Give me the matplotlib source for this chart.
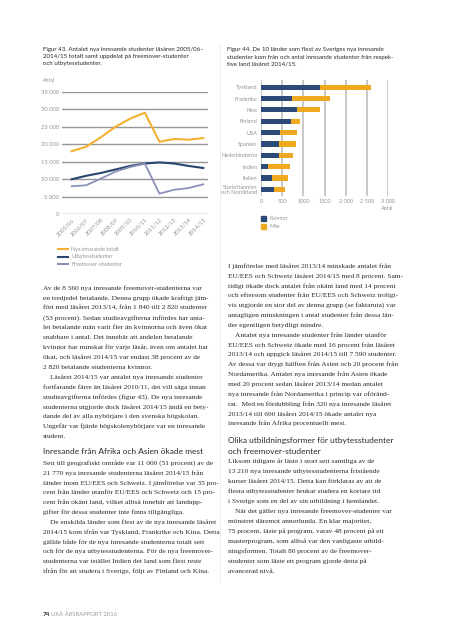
import matplotlib
matplotlib.use("Agg")
import matplotlib.pyplot as plt
from matplotlib.lines import Line2D
from matplotlib.patches import Rectangle

# --- data, figur 43 ---
years = ["2005/06", "2006/07", "2007/08", "2008/09", "2009/10",
         "2010/11", "2011/12", "2012/13", "2013/14", "2014/15"]
totalt = [18000, 19300, 22000, 25000, 27300, 29000, 20700, 21500, 21300, 21770]
utbyte = [10000, 11000, 11800, 12800, 13800, 14500, 14800, 14500, 13800, 13210]
freemover = [8000, 8300, 10200, 12200, 13500, 14500, 5900, 7000, 7500, 8560]
y_ticks = [0, 5000, 10000, 15000, 20000, 25000, 30000, 35000]
y_ticklabels = ["0", "5 000", "10 000", "15 000", "20 000", "25 000", "30 000", "35 000"]

# --- data, figur 44 ---
countries = ["Tyskland", "Frankrike", "Kina", "Finland", "USA", "Spanien",
             "Nederländerna", "Indien", "Italien", "Storbritannien\noch Nordirland"]
kvinnor = [1390, 725, 855, 710, 450, 420, 420, 170, 260, 310]
man = [1200, 895, 535, 220, 400, 405, 335, 505, 380, 265]
x_ticks = [0, 500, 1000, 1500, 2000, 2500, 3000]
x_ticklabels = ["0", "500", "1000", "1500", "2 000", "2 500", "3 000"]

NAVY = "#2b4a77"
ORANGE = "#f0a91e"
LINE_ORANGE = "#f2b12e"
LINE_NAVY = "#27466f"
PURPLE = "#8c91b9"
GREY_TXT = "#949494"
TXT = "#2a2a2a"

W, H = 453, 640
fig = plt.figure(figsize=(W / 100, H / 100), dpi=100)
fig.patch.set_facecolor("white")

SANS = ["Lato", "DejaVu Sans"]
SERIF = ["Liberation Serif", "DejaVu Serif"]

def px(x, y):
    return x / W, 1 - y / H

def text_lines(x, y0, lines, step=9.9, size=5.3, family=SERIF, color=TXT, indent=()):
    for i, s in enumerate(lines):
        xx = x + (7 if i in indent else 0)
        fig.text(*px(xx, y0 + i * step), s, fontsize=size, family=family,
                 color=color, va="center", ha="left")

# ---------- line chart ----------
ax1 = fig.add_axes([62 / W, 1 - 214.3 / H, 146 / W, 122.6 / H])
xs = list(range(len(years)))
for v in y_ticks:
    ax1.axhline(v, color="#969696", lw=1.0, zorder=1)
ax1.plot(xs, totalt, color=LINE_ORANGE, lw=1.5, zorder=3)
ax1.plot(xs, utbyte, color=LINE_NAVY, lw=1.5, zorder=3)
ax1.plot(xs, freemover, color=PURPLE, lw=1.3, zorder=3)
ax1.set_xlim(-0.66, 9.32)
ax1.set_ylim(0, 35000)
ax1.set_yticks(y_ticks)
ax1.set_yticklabels(y_ticklabels)
ax1.set_xticks(xs)
ax1.set_xticklabels(years, rotation=45, ha="right", rotation_mode="anchor")
ax1.tick_params(length=0, labelsize=4.2, colors=GREY_TXT, pad=2)
for lab in ax1.get_xticklabels() + ax1.get_yticklabels():
    lab.set_family(SANS)
for sp in ax1.spines.values():
    sp.set_visible(False)
ax1.set_facecolor("none")

fig.text(*px(43, 81), "Antal", fontsize=3.8, family=SANS, color=GREY_TXT, va="center")

# legend for line chart
leg = [("Nya inresande totalt", LINE_ORANGE, 249), ("Utbytesstudenter", LINE_NAVY, 256.7),
       ("Freemover-studenter", PURPLE, 264)]
for lab, c, yy in leg:
    fig.add_artist(Line2D([58 / W, 68 / W], [1 - yy / H] * 2, color=c, lw=1.5))
    fig.text(*px(71, yy), lab, fontsize=3.9, family=SANS, color=GREY_TXT, va="center")

# ---------- bar chart ----------
ax2 = fig.add_axes([261 / W, 1 - 196 / H, 127.3 / W, 116 / H])
ys = list(range(len(countries)))
for v in x_ticks:
    ax2.axvline(v, color="#b9b9b9", lw=1.1, zorder=1)
ax2.barh(ys, kvinnor, height=0.45, color=NAVY, zorder=3)
ax2.barh(ys, man, left=kvinnor, height=0.45, color=ORANGE, zorder=3)
ax2.set_xlim(0, 3000)
ax2.set_ylim(9.59, -0.64)
ax2.set_yticks(ys)
ax2.set_yticklabels(countries, linespacing=0.95)
ax2.set_xticks(x_ticks)
ax2.set_xticklabels(x_ticklabels)
ax2.tick_params(length=0, labelsize=4.0, colors=GREY_TXT, pad=2.5)
for lab in ax2.get_xticklabels() + ax2.get_yticklabels():
    lab.set_family(SANS)
for sp in ax2.spines.values():
    sp.set_visible(False)
ax2.set_facecolor("none")

fig.text(*px(381, 209), "Antal", fontsize=3.9, family=SANS, color=GREY_TXT, va="center")
for lab, c, yy in [("Kvinnor", NAVY, 218.7), ("Män", ORANGE, 226.7)]:
    fig.add_artist(Rectangle((260.5 / W, 1 - (yy + 2.5) / H), 5 / W, 5 / H,
                             color=c, transform=fig.transFigure))
    fig.text(*px(269, yy), lab, fontsize=3.9, family=SANS, color=GREY_TXT, va="center")

# ---------- captions ----------
text_lines(43, 49.5, ["Figur 43. Antalet nya inresande studenter läsåren 2005/06–",
                      "2014/15 totalt samt uppdelat på freemover-studenter",
                      "och utbytesstudenter."], step=6.8, size=4.45, family=SANS)
text_lines(227, 50, ["Figur 44. De 10 länder som flest av Sveriges nya inresande",
                     "studenter kom från och antal inresande studenter från respek-",
                     "tive land läsåret 2014/15."], step=7.2, size=4.45, family=SANS)

# dotted column separator
fig.add_artist(Line2D([220 / W] * 2, [1 - 45 / H, 1 - 583 / H], color="#cfcfcf",
                      lw=0.6, ls=(0, (1, 1.5))))

# ---------- left column text ----------
left1 = [
    "Av de 8 560 nya inresande freemover-studenterna var",
    "en tredjedel betalande. Denna grupp ökade kraftigt jäm-",
    "fört med läsåret 2013/14, från 1 840 till 2 820 studenter",
    "(53 procent). Sedan studieavgifterna infördes har anta-",
    "let betalande män varit fler än kvinnorna och även ökat",
    "snabbare i antal. Det innebär att andelen betalande",
    "kvinnor har minskat för varje läsår, även om antalet har",
    "ökat, och läsåret 2014/15 var endast 38 procent av de",
    "2 820 betalande studenterna kvinnor.",
    "Läsåret 2014/15 var antalet nya inresande studenter",
    "fortfarande färre än läsåret 2010/11, det vill säga innan",
    "studieavgifterna infördes (figur 43). De nya inresande",
    "studenterna utgjorde dock läsåret 2014/15 ändå en bety-",
    "dande del av alla nybörjare i den svenska högskolan.",
    "Ungefär var fjärde högskolenybörjare var en inresande",
    "student.",
]
text_lines(43, 288, left1, indent=(9,))
fig.text(*px(43, 451), "Inresande från Afrika och Asien ökade mest", fontsize=6.0,
         family=SANS, color=TXT, va="center")
left2 = [
    "Sett till geografiskt område var 11 000 (51 procent) av de",
    "21 770 nya inresande studenterna läsåret 2014/15 från",
    "länder inom EU/EES och Schweiz. I jämförelse var 35 pro-",
    "cent från länder utanför EU/EES och Schweiz och 15 pro-",
    "cent från okänt land, vilket alltså innebär att landupp-",
    "gifter för dessa studenter inte finns tillgängliga.",
    "De enskilda länder som flest av de nya inresande läsåret",
    "2014/15 kom ifrån var Tyskland, Frankrike och Kina. Detta",
    "gällde både för de nya inresande studenterna totalt sett",
    "och för de nya utbytesstudenterna. För de nya freemover-",
    "studenterna var istället Indien det land som flest reste",
    "ifrån för att studera i Sverige, följt av Finland och Kina.",
]
text_lines(43, 463, left2, step=9.85, indent=(6,))

# ---------- right column text ----------
right1 = [
    "I jämförelse med läsåret 2013/14 minskade antalet från",
    "EU/EES och Schweiz läsåret 2014/15 med 8 procent. Sam-",
    "tidigt ökade dock antalet från okänt land med 14 procent",
    "och eftersom studenter från EU/EES och Schweiz troligt-",
    "vis utgjorde en stor del av denna grupp (se faktaruta) var",
    "antagligen minskningen i antal studenter från dessa län-",
    "der egentligen betydligt mindre.",
    "Antalet nya inresande studenter från länder utanför",
    "EU/EES och Schweiz ökade med 16 procent från läsåret",
    "2013/14 och uppgick läsåret 2014/15 till 7 590 studenter.",
    "Av dessa var drygt hälften från Asien och 20 procent från",
    "Nordamerika. Antalet nya inresande från Asien ökade",
    "med 20 procent sedan läsåret 2013/14 medan antalet",
    "nya inresande från Nordamerika i princip var oföränd-",
    "rat.  Med en fördubbling från 320 nya inresande läsåret",
    "2013/14 till 690 läsåret 2014/15 ökade antalet nya",
    "inresande från Afrika procentuellt mest.",
]
text_lines(228, 266, right1, step=9.85, indent=(7,))
fig.text(*px(228, 441), "Olika utbildningsformer för utbytesstudenter", fontsize=6.0,
         family=SANS, color=TXT, va="center")
fig.text(*px(228, 451), "och freemover-studenter", fontsize=6.0,
         family=SANS, color=TXT, va="center")
right2 = [
    "Liksom tidigare år läste i stort sett samtliga av de",
    "13 210 nya inresande utbytesstudenterna fristående",
    "kurser läsåret 2014/15. Detta kan förklaras av att de",
    "flesta utbytesstudenter brukar studera en kortare tid",
    "i Sverige som en del av sin utbildning i hemlandet.",
    "När det gäller nya inresande freemover-studenter var",
    "mönstret däremot annorlunda. En klar majoritet,",
    "75 procent, läste på program, varav 48 procent på ett",
    "masterprogram, som alltså var den vanligaste utbild-",
    "ningsformen. Totalt 80 procent av de freemover-",
    "studenter som läste ett program gjorde detta på",
    "avancerad nivå.",
]
text_lines(228, 461.5, right2, step=9.97, indent=(5,))

# footer
fig.text(*px(43, 614), "74", fontsize=4.6, family=SANS, color=TXT, va="center",
         weight="bold")
fig.text(*px(51, 614), "UKÄ ÅRSRAPPORT 2016", fontsize=4.2, family=SANS,
         color="#9a9a9a", va="center")

fig.savefig("out.png", dpi=100, facecolor="white")
